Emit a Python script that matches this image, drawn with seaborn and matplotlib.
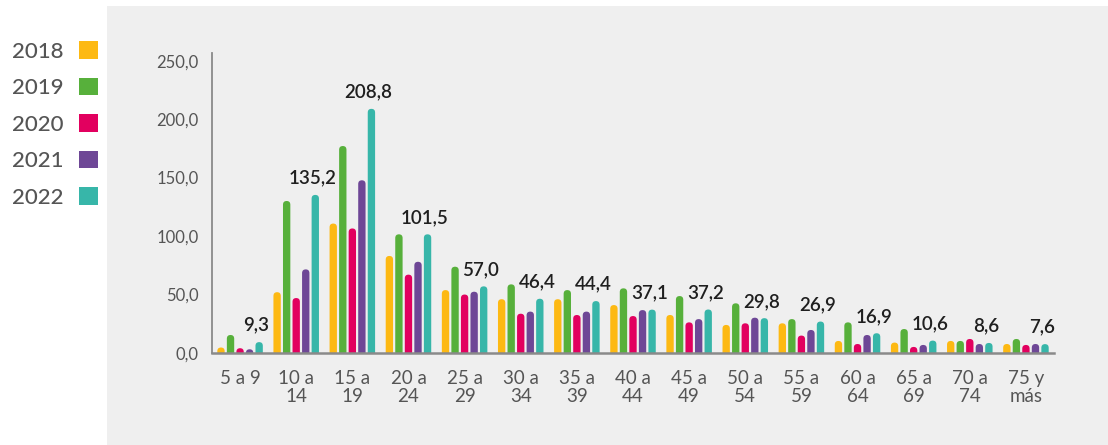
import numpy as np
import pandas as pd
import matplotlib
matplotlib.use("Agg")
import matplotlib.pyplot as plt
from matplotlib.patches import FancyBboxPatch, Patch, Rectangle
import seaborn as sns

# ---------------- data ----------------
grupos = ["5 a 9", "10 a\n14", "15 a\n19", "20 a\n24", "25 a\n29", "30 a\n34", "35 a\n39",
          "40 a\n44", "45 a\n49", "50 a\n54", "55 a\n59", "60 a\n64", "65 a\n69", "70 a\n74",
          "75 y\nmás"]
anios = ["2018", "2019", "2020", "2021", "2022"]
v2018 = [4.7, 52.0, 110.7, 83.0, 53.8, 46.0, 46.0, 41.0, 32.5, 24.0, 25.4, 10.3, 8.9, 10.3, 7.7]
v2019 = [15.4, 130.0, 177.0, 101.5, 73.8, 58.7, 53.8, 55.3, 48.7, 42.5, 29.0, 26.2, 20.5, 10.3, 12.0]
v2020 = [4.1, 47.0, 106.5, 67.0, 50.0, 33.6, 32.5, 31.6, 26.2, 25.4, 14.9, 7.7, 5.2, 12.0, 6.9]
v2021 = [3.2, 71.5, 147.7, 78.0, 52.4, 35.4, 35.4, 36.7, 29.0, 30.2, 19.7, 15.4, 6.9, 7.7, 7.7]
v2022 = [9.3, 135.2, 208.8, 101.5, 57.0, 46.4, 44.4, 37.1, 37.2, 29.8, 26.9, 16.9, 10.6, 8.6, 7.6]
colores = ["#FDB913", "#57B03B", "#E2005F", "#6E4796", "#37B6A9"]
yticks = [0, 50, 100, 150, 200, 250]

series = [v2018, v2019, v2020, v2021, v2022]
df = pd.DataFrame({
    "grupo": np.repeat([grupos], len(anios), axis=0).ravel(),
    "anio": np.repeat(anios, len(grupos)),
    "valor": np.concatenate(series),
})

# ---------------- figure ----------------
sns.set_style("white")
plt.rcParams["font.family"] = ["Lato", "DejaVu Sans"]
W, H = 1108, 445
fig = plt.figure(figsize=(W / 100, H / 100), dpi=100)
fig.patch.set_facecolor("white")
fig.patches.append(Rectangle((107 / W, 0), 1 - 107 / W, 1 - 6 / H, transform=fig.transFigure,
                             facecolor="#EFEFEF", edgecolor="none", zorder=-5))

ax = fig.add_axes([212 / W, 1 - 353 / H, (1054 - 212) / W, (353 - 53.3) / H])
ax.set_facecolor("none")
ax.set_zorder(2)

sns.barplot(data=df, x="grupo", y="valor", hue="anio", palette=colores, width=0.85, gap=0.23,
            ax=ax, legend=False, errorbar=None, saturation=1)

ax.set_xlim(-0.5, len(grupos) - 0.5)
ax.set_ylim(0, 256.3)

# rounded tops
fig.canvas.draw()
p0 = ax.transData.transform((0, 0))
p1 = ax.transData.transform((1, 1))
px_x = p1[0] - p0[0]
px_y = p1[1] - p0[1]
aspect = px_x / px_y
for cont, col in zip(ax.containers, colores):
    for bar in cont:
        x, w, h = bar.get_x(), bar.get_width(), bar.get_height()
        r = w / 2
        ry = r * aspect
        fb = FancyBboxPatch((x, -2 * ry), w, h + 2 * ry,
                            boxstyle=f"round,pad=0,rounding_size={r}",
                            mutation_aspect=aspect, facecolor=col, edgecolor="none",
                            zorder=2)
        ax.add_patch(fb)
        bar.set_visible(False)

# data labels for 2022
last = ax.containers[-1]
for bar, v in zip(last, v2022):
    ax.annotate(f"{v:.1f}".replace(".", ","), (bar.get_x() + bar.get_width() / 2, bar.get_height()),
                xytext=(-2, 6), textcoords="offset points", ha="center", va="bottom",
                fontsize=13.5, color="#1f1f1f", fontweight="semibold")

ax.set_yticks(yticks)
ax.set_yticklabels([f"{t:.1f}".replace(".", ",") for t in yticks], fontsize=12, color="#555555")
ax.tick_params(axis="y", length=0, pad=9.5)
ax.tick_params(axis="x", length=0, pad=12, labelsize=13.5, labelcolor="#555555")
for lbl in ax.get_xticklabels():
    lbl.set_linespacing(1.1)
ax.set_xlabel("")
ax.set_ylabel("")
sns.despine(ax=ax)
for s in ["left", "bottom"]:
    ax.spines[s].set_color("#8a8a8a")
ax.spines["bottom"].set_linewidth(1.8)
ax.spines["left"].set_linewidth(1.3)
ax.spines["bottom"].set_zorder(5)

handles = [Patch(facecolor=c, edgecolor="none") for c in colores]
fig.legend(handles, anios, loc="upper left", bbox_to_anchor=(12 / W, 1 - 41 / H),
           frameon=False, markerfirst=False, labelcolor="#555555",
           prop={"size": 16, "weight": "medium"},
           handlelength=0.85, handleheight=0.85, labelspacing=0.72, handletextpad=0.7,
           borderaxespad=0, borderpad=0)

fig.savefig("out.png", dpi=100)
